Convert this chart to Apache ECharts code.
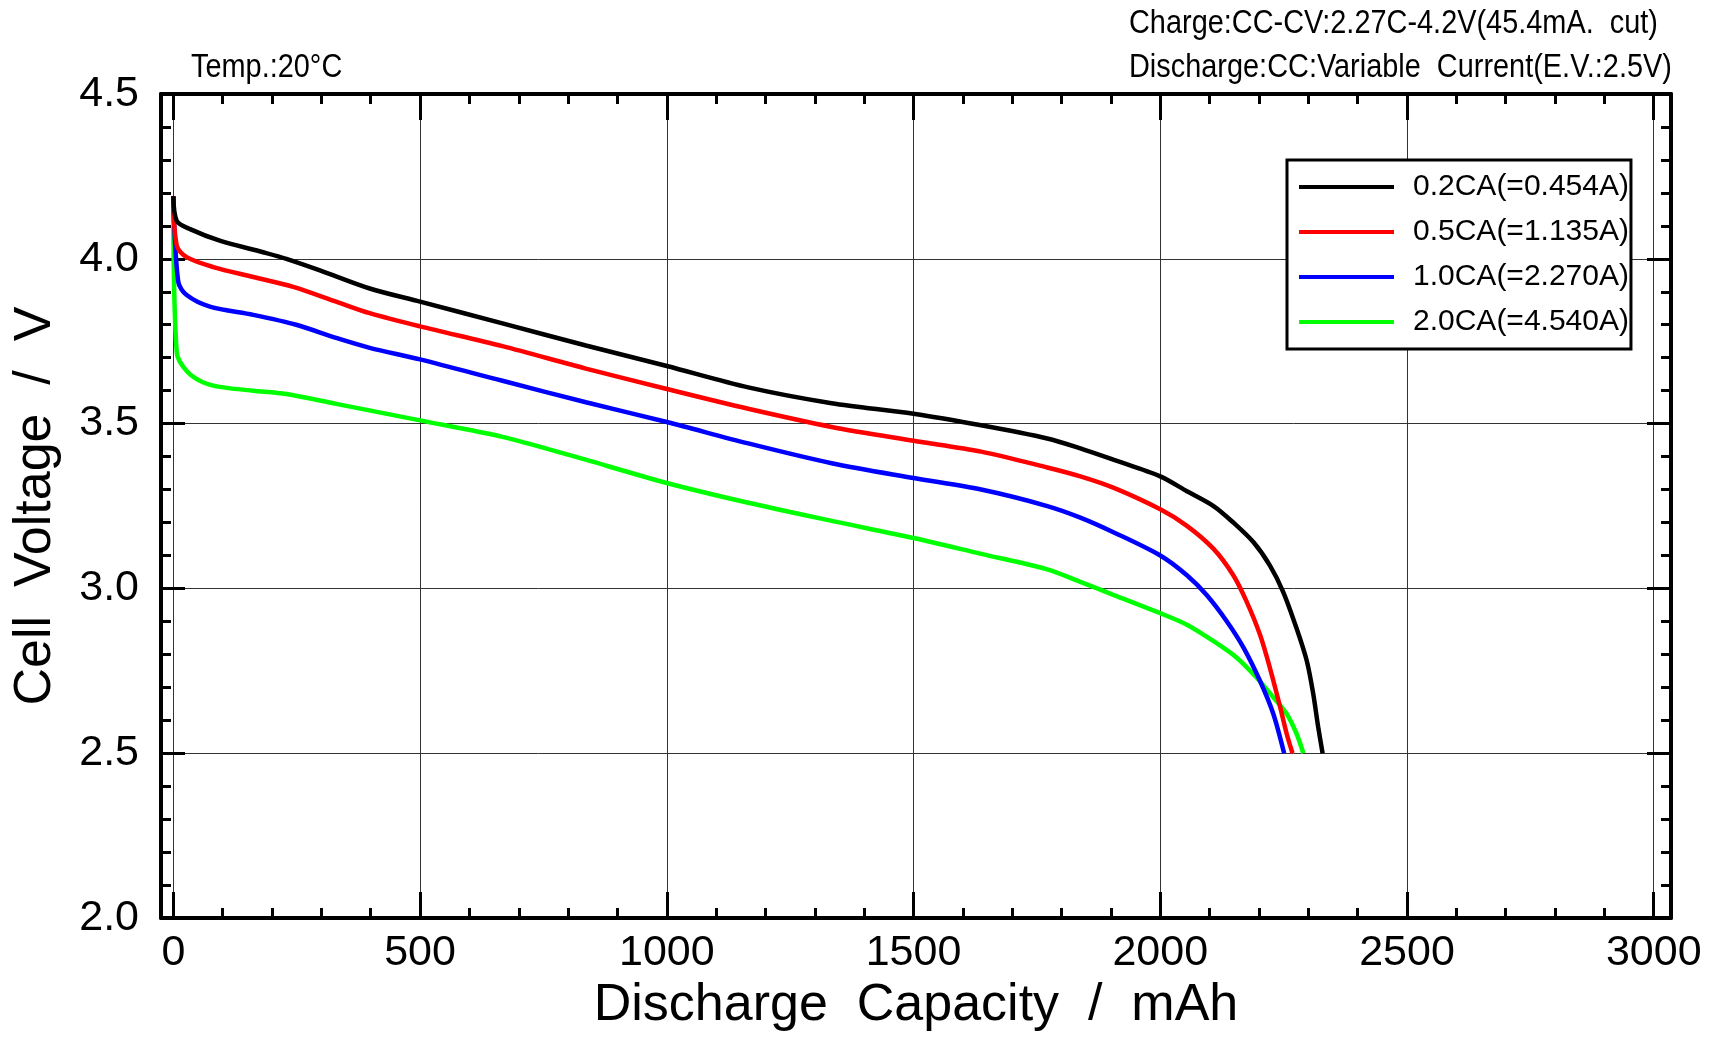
<!DOCTYPE html>
<html>
<head>
<meta charset="utf-8">
<script src="https://cdn.jsdelivr.net/npm/echarts@6/dist/echarts.min.js"></script>
<style>
html,body{margin:0;padding:0;background:#fff;}
#chart{width:1715px;height:1037px;}
</style>
</head>
<body>
<div id="chart"></div>
<script>
// ---- data ----
var seriesNames = ['0.2CA(=0.454A)', '0.5CA(=1.135A)', '1.0CA(=2.270A)', '2.0CA(=4.540A)'];

var x02 = [0, 7, 34, 94, 182, 229, 297, 398, 500, 667, 836, 1000, 1165, 1334, 1500, 1637, 1771, 1838, 1906, 2000, 2054, 2108, 2148, 2189, 2222, 2249, 2276, 2297, 2310, 2320, 2329];
var y02 = [4.19, 4.115, 4.09, 4.055, 4.02, 4.0, 3.965, 3.91, 3.87, 3.804, 3.737, 3.675, 3.61, 3.562, 3.53, 3.495, 3.455, 3.425, 3.39, 3.34, 3.295, 3.25, 3.20, 3.14, 3.07, 2.99, 2.88, 2.78, 2.68, 2.58, 2.5];

var x05 = [0, 7, 27, 81, 162, 243, 330, 398, 500, 667, 836, 1000, 1165, 1334, 1500, 1637, 1771, 1838, 1906, 2000, 2054, 2108, 2148, 2175, 2202, 2222, 2243, 2256, 2268];
var y05 = [4.19, 4.04, 4.005, 3.975, 3.945, 3.915, 3.87, 3.835, 3.795, 3.735, 3.667, 3.605, 3.545, 3.49, 3.448, 3.415, 3.367, 3.34, 3.305, 3.24, 3.19, 3.12, 3.04, 2.96, 2.86, 2.76, 2.64, 2.56, 2.5];

var x10 = [0, 10, 27, 74, 162, 249, 330, 398, 500, 667, 836, 1000, 1165, 1334, 1500, 1637, 1771, 1838, 1906, 2000, 2054, 2094, 2135, 2169, 2202, 2229, 2251];
var y10 = [4.19, 3.93, 3.89, 3.855, 3.83, 3.80, 3.76, 3.73, 3.695, 3.63, 3.565, 3.505, 3.44, 3.38, 3.335, 3.30, 3.25, 3.215, 3.17, 3.10, 3.04, 2.98, 2.90, 2.82, 2.72, 2.62, 2.5];

var x20 = [0, 7, 27, 61, 101, 162, 229, 330, 500, 667, 802, 1000, 1165, 1334, 1500, 1637, 1771, 1838, 1906, 2000, 2054, 2108, 2155, 2195, 2229, 2256, 2276, 2290];
var y20 = [4.19, 3.715, 3.66, 3.625, 3.61, 3.60, 3.59, 3.56, 3.51, 3.46, 3.405, 3.32, 3.26, 3.205, 3.153, 3.105, 3.058, 3.02, 2.98, 2.925, 2.89, 2.84, 2.79, 2.73, 2.67, 2.62, 2.56, 2.5];

var xMajorTicks = [0, 500, 1000, 1500, 2000, 2500, 3000];
var xMinorTicks = [100, 200, 300, 400, 600, 700, 800, 900, 1100, 1200, 1300, 1400, 1600, 1700, 1800, 1900, 2100, 2200, 2300, 2400, 2600, 2700, 2800, 2900];

var colors = ['#000000', '#ff0000', '#0000ff', '#00ff00'];

function pairs(xs, ys) { return xs.map(function (v, i) { return [v, ys[i]]; }); }

var FONT = 'Liberation Sans, Arial, sans-serif';

var chart = echarts.init(document.getElementById('chart'), null, { renderer: 'canvas' });

function xAxisDef(pos, vals, len, major) {
  return {
    type: 'value', gridIndex: 0, position: pos, min: -25, max: 3035,
    axisLine: { show: major, onZero: false, lineStyle: { color: '#000', width: 4 } },
    axisTick: { show: true, inside: true, length: len, customValues: vals, lineStyle: { color: '#000', width: 3 } },
    axisLabel: { show: false },
    splitLine: { show: false },
    minorTick: { show: false }
  };
}

var xBottom = xAxisDef('bottom', xMajorTicks, 26, true);
xBottom.axisLabel = { show: true, customValues: xMajorTicks, fontSize: 43, color: '#000', fontFamily: FONT, margin: 14,
  formatter: function (v) { return String(v); } };
xBottom.splitLine = { show: true, lineStyle: { color: '#333', width: 1 } };
xBottom.name = 'Discharge  Capacity  /  mAh';
xBottom.nameLocation = 'middle';
xBottom.nameGap = 58;
xBottom.nameTextStyle = { fontSize: 52, color: '#000', fontFamily: FONT };

function yAxisDef(pos, labels) {
  return {
    type: 'value', gridIndex: 0, position: pos, min: 2, max: 4.5, interval: 0.5,
    axisLine: { show: true, onZero: false, lineStyle: { color: '#000', width: 4 } },
    axisTick: { show: true, inside: true, length: 24, lineStyle: { color: '#000', width: 3 } },
    minorTick: { show: true, splitNumber: 5, length: 10, lineStyle: { color: '#000', width: 3 } },
    axisLabel: { show: labels, fontSize: 43, color: '#000', fontFamily: FONT, margin: 22,
      formatter: function (v) { return v.toFixed(1); } },
    splitLine: { show: labels, lineStyle: { color: '#333', width: 1 } }
  };
}
var yLeft = yAxisDef('left', true);
yLeft.name = 'Cell  Voltage  /  V';
yLeft.nameLocation = 'middle';
yLeft.nameGap = 99;
yLeft.nameRotate = 90;
yLeft.nameTextStyle = { fontSize: 52, color: '#000', fontFamily: FONT };

var datasets = [pairs(x02, y02), pairs(x05, y05), pairs(x10, y10), pairs(x20, y20)];

function note(text, x, y) {
  return { type: 'text', x: x, y: y, scaleX: 0.85, scaleY: 1, originX: 0, originY: 0,
    style: { text: text, fontSize: 34, fontFamily: FONT, fill: '#000', align: 'left', verticalAlign: 'middle' } };
}

var option = {
  backgroundColor: '#fff',
  animation: false,
  grid: { left: 161, right: 44, top: 94, bottom: 111, containLabel: false },
  xAxis: [
    xBottom,
    xAxisDef('bottom', xMinorTicks, 10, false),
    xAxisDef('top', xMajorTicks, 26, true),
    xAxisDef('top', xMinorTicks, 10, false)
  ],
  yAxis: [yLeft, yAxisDef('right', false)],
  legend: {
    show: true, orient: 'vertical', left: 1287, top: 160,
    data: seriesNames, icon: 'rect',
    padding: [10, 2, 10, 12], itemGap: 11, itemWidth: 95, itemHeight: 4,
    borderColor: '#000', borderWidth: 3, backgroundColor: '#fff',
    textStyle: { fontSize: 30, color: '#000', fontFamily: FONT, lineHeight: 34, padding: [0, 0, 0, 14] }
  },
  graphic: [
    note('Temp.:20°C', 191, 68),
    note('Charge:CC-CV:2.27C-4.2V(45.4mA.  cut)', 1129, 24),
    note('Discharge:CC:Variable  Current(E.V.:2.5V)', 1129, 68)
  ],
  series: datasets.map(function (d, i) {
    return {
      name: seriesNames[i], type: 'line', xAxisIndex: 0, yAxisIndex: 0,
      data: d, showSymbol: false, symbol: 'none', smooth: 0.3,
      lineStyle: { color: colors[i], width: 4.5 }, itemStyle: { color: colors[i] },
      z: 10 - i
    };
  })
};
chart.setOption(option);
</script>
</body>
</html>
